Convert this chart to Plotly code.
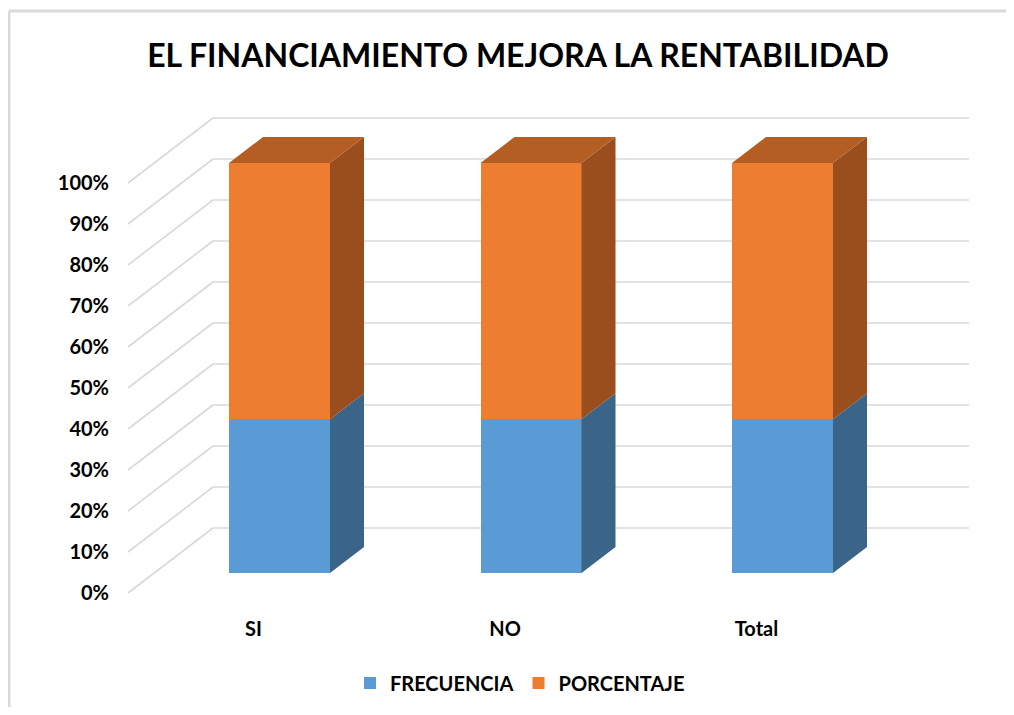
import plotly.graph_objects as go

# ---------------------------------------------------------------------------
# Data (shares)
# ---------------------------------------------------------------------------
categorias = ['SI', 'NO', 'Total']
frecuencia = [37.5, 37.5, 37.5]
porcentaje = [62.5, 62.5, 62.5]
ticks_pct = list(range(0, 101, 10))

# ---------------------------------------------------------------------------
# Geometry of the fake 3D projection (page pixels; the page body adds 8 px)
# ---------------------------------------------------------------------------
PAGE = 8
W, H = 1014 - 2 * PAGE, 715 - 2 * PAGE
STEP_PX = 251.5      # distance between categories
X0_PX = 279.5 - PAGE  # centre of first column (front face)
YUNIT_PX = 4.1       # pixels per 1 %
Y0_PX = 573 - PAGE   # 0 % on the column front face
BAR_W_PX = 101
DEPTH = (34, -26)        # column depth
LABEL_OFF = (-26, 20)    # front edge of floor vs column front
WALL_OFF = (59, -45)     # back wall vs column front
WALL_X = (213 - PAGE, 969 - PAGE)  # back wall extent

xr = [-X0_PX / STEP_PX, (W - X0_PX) / STEP_PX]
yr = [-(H - Y0_PX) / YUNIT_PX, Y0_PX / YUNIT_PX]


def px_x(p):
    return (p - X0_PX) / STEP_PX


def off_x(p):
    return p / STEP_PX


def off_y(p):
    return -p / YUNIT_PX


FONT = 'Lato'
BLUE, BLUE_SIDE = '#5B9BD5', '#3A6589'
ORANGE, ORANGE_SIDE, ORANGE_TOP = '#ED7D31', '#9A4E1D', '#B55E24'

xs = list(range(len(categorias)))
bw = BAR_W_PX / STEP_PX
ddx, ddy = off_x(DEPTH[0]), off_y(DEPTH[1])

fig = go.Figure()

fig.add_trace(go.Bar(x=xs, y=frecuencia, name='FRECUENCIA', width=bw,
                     marker=dict(color=BLUE, line=dict(width=0)),
                     hoverinfo='skip'))
fig.add_trace(go.Bar(x=xs, y=porcentaje, name='PORCENTAJE', width=bw,
                     marker=dict(color=ORANGE, line=dict(width=0)),
                     hoverinfo='skip'))

# side faces, built from the stacked values
for series, col in [(None, BLUE_SIDE), (porcentaje, ORANGE_SIDE)]:
    px_, py_ = [], []
    for i in xs:
        lo = 0 if series is None else frecuencia[i]
        hi = frecuencia[i] if series is None else frecuencia[i] + porcentaje[i]
        xright = i + bw / 2
        px_ += [xright, xright + ddx, xright + ddx, xright, xright, None]
        py_ += [lo, lo + ddy, hi + ddy, hi, lo, None]
    fig.add_trace(go.Scatter(x=px_, y=py_, mode='lines', fill='toself',
                             fillcolor=col, line=dict(width=0, color=col),
                             showlegend=False, hoverinfo='skip'))

# top faces
tx, ty = [], []
for i in xs:
    top = frecuencia[i] + porcentaje[i]
    xl, xrr = i - bw / 2, i + bw / 2
    tx += [xl, xl + ddx, xrr + ddx, xrr, xl, None]
    ty += [top, top + ddy, top + ddy, top, top, None]
fig.add_trace(go.Scatter(x=tx, y=ty, mode='lines', fill='toself',
                         fillcolor=ORANGE_TOP, line=dict(width=0, color=ORANGE_TOP),
                         showlegend=False, hoverinfo='skip'))

# dummy trace so the label axes exist
fig.add_trace(go.Scatter(x=[None], y=[None], xaxis='x2', yaxis='y2',
                         showlegend=False, hoverinfo='skip'))

# walls: gridlines on back wall + diagonals on left wall
shapes = []
GRID = dict(color='#d9d9d9', width=1.6)
for v in ticks_pct:
    yb = v + off_y(WALL_OFF[1])
    yf = v + off_y(LABEL_OFF[1])
    shapes.append(dict(type='line', xref='x', yref='y', layer='below',
                       x0=px_x(WALL_X[0]), x1=px_x(WALL_X[1]), y0=yb, y1=yb, line=GRID))
    xf = px_x(WALL_X[0] - (WALL_OFF[0] - LABEL_OFF[0]))
    shapes.append(dict(type='line', xref='x', yref='y', layer='below',
                       x0=xf, x1=px_x(WALL_X[0]), y0=yf, y1=yb, line=GRID))

# chart frame (top and left edges visible)
FRAME = dict(color='#d9d9d9', width=3)
fy = 1 - (11 - PAGE) / H
fx = (9 - PAGE) / W
shapes.append(dict(type='line', xref='paper', yref='paper', x0=fx, x1=1,
                   y0=fy, y1=fy, line=FRAME))
shapes.append(dict(type='line', xref='paper', yref='paper', x0=fx, x1=fx,
                   y0=0, y1=fy, line=FRAME))

lab_dx = -LABEL_OFF[0] / STEP_PX
lab_dy = LABEL_OFF[1] / YUNIT_PX

fig.update_layout(
    width=W, height=H,
    margin=dict(l=0, r=0, t=0, b=0),
    paper_bgcolor='white', plot_bgcolor='rgba(0,0,0,0)',
    barmode='stack',
    hovermode=False,
    title=dict(text='EL FINANCIAMIENTO MEJORA LA RENTABILIDAD',
               x=(518 - PAGE) / W, xanchor='center', y=1 - (56 - PAGE) / H,
               yanchor='middle',
               font=dict(family=FONT, size=32, color='#000', weight='bold')),
    xaxis=dict(domain=[0, 1], range=xr, visible=False, fixedrange=True),
    yaxis=dict(domain=[0, 1], range=yr, visible=False, fixedrange=True),
    xaxis2=dict(overlaying='x', anchor='free', position=1 - (615 - PAGE) / H,
                range=[xr[0] + lab_dx, xr[1] + lab_dx],
                tickmode='array', tickvals=xs, ticktext=categorias,
                showgrid=False, zeroline=False, showline=False, ticks='',
                tickfont=dict(family=FONT, size=20, color='#000', weight='bold')),
    yaxis2=dict(overlaying='y', anchor='free', position=(109 - PAGE) / W, side='left',
                range=[yr[0] + lab_dy, yr[1] + lab_dy],
                tickmode='array', tickvals=ticks_pct,
                ticktext=[f'{v}%' for v in ticks_pct],
                showgrid=False, zeroline=False, showline=False, ticks='',
                tickfont=dict(family=FONT, size=20, color='#000', weight='bold')),
    legend=dict(orientation='h', x=(520 - PAGE) / W, xanchor='center',
                y=1 - (683 - PAGE) / H, yanchor='middle', traceorder='normal',
                font=dict(family=FONT, size=20, color='#000', weight='bold')),
    shapes=shapes,
)

fig.write_html('out.html')
